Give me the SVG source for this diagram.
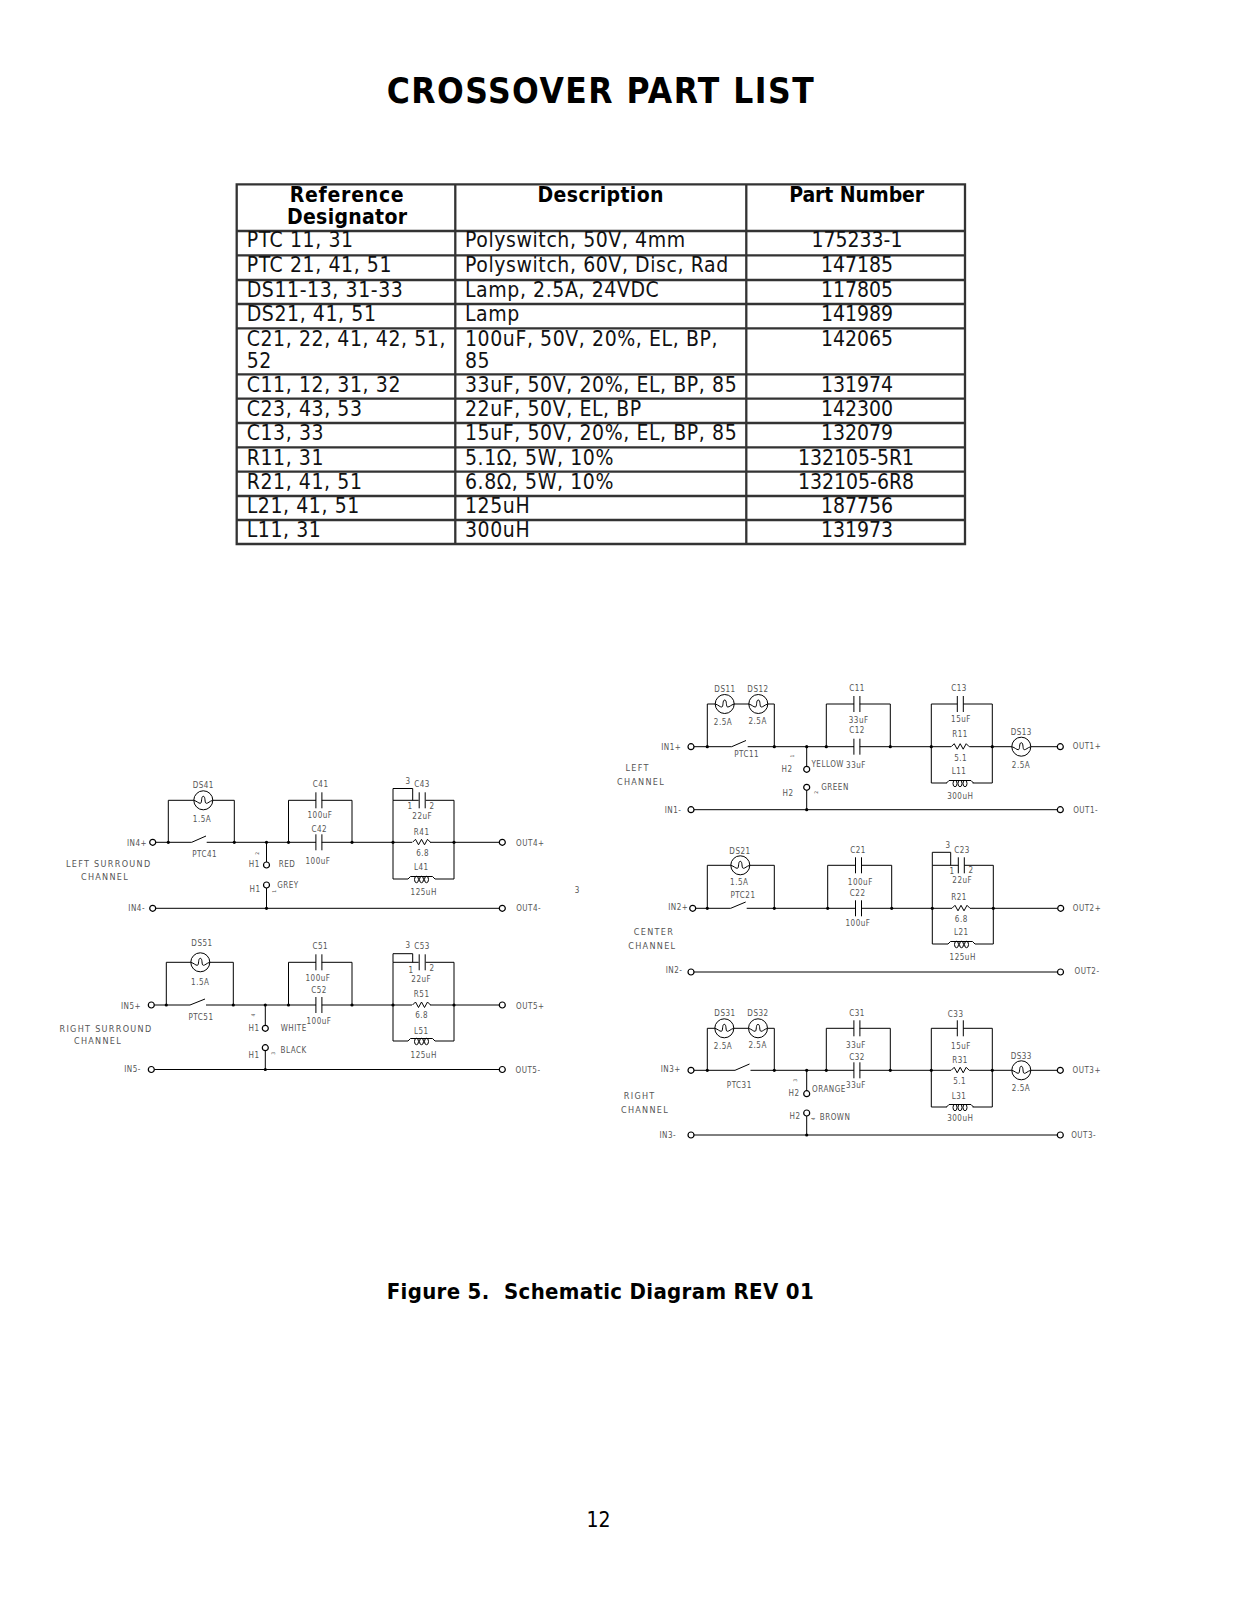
<svg xmlns="http://www.w3.org/2000/svg" width="1237" height="1600" viewBox="0 0 1237 1600">
<style>
text{font-family:"DejaVu Sans Condensed","DejaVu Sans",sans-serif;fill:#000}
.t{font-size:21px;fill:#111;letter-spacing:.6px}
.c{font-size:21px;fill:#111;text-anchor:middle}
.h{font-size:21px;font-weight:bold;text-anchor:middle}
.s{font-size:8px;fill:#555;text-anchor:middle;dominant-baseline:central;letter-spacing:.5px}
.n{font-size:9px;fill:#555;text-anchor:middle;dominant-baseline:central;letter-spacing:1.3px}
.r{font-size:5px;fill:#555;text-anchor:middle}
.g{fill:none;stroke:#333;stroke-width:2.3}
.w{fill:none;stroke:#000;stroke-width:1}
.o{fill:#fff;stroke:#000;stroke-width:1.2}
.d{fill:#000}
</style>
<defs>
<g id="lamp"><circle r="9.5" fill="#fff" stroke="#000" stroke-width="1"/><path class="w" d="M-9.5 0C-6 1-5 3-3 3C-1 3-2.5-4 0-4C2.5-4 1 3 3 3C5 3 6 1 9.5 0"/></g>
<path id="capv" class="w" d="M-3-8V8M3-8V8"/>
<path id="res" class="w" d="M-9 0L-6-3L-3 2.5L0-3L3 2.5L6-3L9 0"/>
<g id="ind"><path class="w" d="M-13.5 0L-11-2.5H11L13.5 0"/><ellipse class="w" cx="-5" cy=".5" rx="2" ry="3.2"/><ellipse class="w" cx="0" cy=".5" rx="2" ry="3.2"/><ellipse class="w" cx="5" cy=".5" rx="2" ry="3.2"/></g>
<circle id="dot" class="d" r="1.6"/>
<circle id="term" class="o" r="3"/>
</defs>

<g id="title"><text x="386.7" y="103.3" font-size="35" font-weight="bold" textLength="427">CROSSOVER PART LIST</text></g>

<g id="table">
<path class="g" d="M236.7 184.3H965V544H236.7ZM455.3 184.3V544M746.3 184.3V544M236.7 231H965M236.7 255.3H965M236.7 280H965M236.7 304H965M236.7 328.3H965M236.7 374.3H965M236.7 398.7H965M236.7 423H965M236.7 447.3H965M236.7 471.7H965M236.7 496H965M236.7 520H965"/>
<text class="h" x="346.7" y="202" textLength="114">Reference</text><text class="h" x="347" y="224" textLength="120">Designator</text>
<text class="h" x="600.5" y="202" textLength="126">Description</text><text class="h" x="856.7" y="202" textLength="135">Part Number</text>
<text class="t" x="246.7" y="247.3">PTC 11, 31</text><text class="t" x="465" y="247.3">Polyswitch, 50V, 4mm</text><text class="c" x="857" y="247.3">175233-1</text>
<text class="t" x="246.7" y="272">PTC 21, 41, 51</text><text class="t" x="465" y="272">Polyswitch, 60V, Disc, Rad</text><text class="c" x="857" y="272">147185</text>
<text class="t" x="246.7" y="296.7">DS11-13, 31-33</text><text class="t" x="465" y="296.7">Lamp, 2.5A, 24VDC</text><text class="c" x="857" y="296.7">117805</text>
<text class="t" x="246.7" y="321">DS21, 41, 51</text><text class="t" x="465" y="321">Lamp</text><text class="c" x="857" y="321">141989</text>
<text class="t" x="246.7" y="345.7">C21, 22, 41, 42, 51,</text><text class="t" x="246.7" y="368.3">52</text><text class="t" x="465" y="345.7">100uF, 50V, 20%, EL, BP,</text><text class="t" x="465" y="368.3">85</text><text class="c" x="857" y="345.7">142065</text>
<text class="t" x="246.7" y="392">C11, 12, 31, 32</text><text class="t" x="465" y="392">33uF, 50V, 20%, EL, BP, 85</text><text class="c" x="857" y="392">131974</text>
<text class="t" x="246.7" y="416">C23, 43, 53</text><text class="t" x="465" y="416">22uF, 50V, EL, BP</text><text class="c" x="857" y="416">142300</text>
<text class="t" x="246.7" y="440">C13, 33</text><text class="t" x="465" y="440">15uF, 50V, 20%, EL, BP, 85</text><text class="c" x="857" y="440">132079</text>
<text class="t" x="246.7" y="465">R11, 31</text><text class="t" x="465" y="465">5.1Ω, 5W, 10%</text><text class="c" x="856" y="465">132105-5R1</text>
<text class="t" x="246.7" y="489.3">R21, 41, 51</text><text class="t" x="465" y="489.3">6.8Ω, 5W, 10%</text><text class="c" x="856" y="489.3">132105-6R8</text>
<text class="t" x="246.7" y="513.3">L21, 41, 51</text><text class="t" x="465" y="513.3">125uH</text><text class="c" x="857" y="513.3">187756</text>
<text class="t" x="246.7" y="537.3">L11, 31</text><text class="t" x="465" y="537.3">300uH</text><text class="c" x="857" y="537.3">131973</text>
</g>

<g id="connectors" class="w">
<path d="M155.7 842.3H191.7L206 836M206.7 842.3H316M321.7 842.3H412M430 842.3H499.3M168.3 842.3V800.3H194M212.8 800.3H234.3V842.3M288.5 842.3V800.3H316M321.7 800.3H352V842.3M393 842.3V800.3H418.7M425.7 800.3H454V842.3M393 800.3V788.5H412.7V800.3M393 842.3V879H408M435 879H454V842.3M266.5 842.3V862M266.5 888V908.3M155.7 908.3H499.3"/>
<path d="M154.3 1005H190L205 999M206 1005H316M321.7 1005H412M430 1005H499.3M166.3 1005V962.3H191M210 962.3H233.3V1005M288.5 1005V962.3H316M321.7 962.3H352V1005M393 1005V962.3H418.7M425.7 962.3H454V1005M393 962.3V953.7H412.7V962.3M393 1005V1041H408M435 1041H454V1005M265.3 1005V1025.3M265.3 1050.7V1069.5M154.3 1069.5H499.3"/>
<path d="M694 746.7H731.7L746 740.5M747.7 746.7H854M859.7 746.7H951M969.3 746.7H1012M1031 746.7H1057.3M707.3 746.7V704H715M768 704H774.3V746.7M734 704H749M826.3 746.7V704H854M859.7 704H890.3V746.7M931.3 746.7V704H957.3M963.3 704H992.3V746.7M931.3 746.7V783H947M972.6 783H992.3V746.7M806.7 746.7V766.3M806.7 790.3V809.7M694 809.7H1057.3"/>
<path d="M695.7 908.3H730.7L745.7 902M746.7 908.3H855.7M861.3 908.3H952M970 908.3H1057.7M707.3 908.3V865.3H731M750 865.3H774.3V908.3M827.7 908.3V865.3H855.7M861.3 865.3H891.7V908.3M932.3 908.3V865.3H958.3M964.3 865.3H993.3V908.3M932.3 865.3V852.3H950.7V865.3M932.3 908.3V944H948M975 944H993.3V908.3M694 972H1057.5"/>
<path d="M694 1070.3H735L749.5 1064M750.5 1070.3H854M859.7 1070.3H951M969.3 1070.3H1012M1031 1070.3H1057.3M707.3 1070.3V1028.3H715M768 1028.3H774.3V1070.3M734 1028.3H749M826.3 1070.3V1028.3H854M859.7 1028.3H890.3V1070.3M931.3 1070.3V1028.3H957.3M963.3 1028.3H992.3V1070.3M931.3 1070.3V1107H947M972.6 1107H992.3V1070.3M806.7 1070.3V1090.7M806.7 1116V1135M694 1135H1057.3"/>
</g>

<g id="left-surround">
<use href="#lamp" x="203.3" y="800.3"/><use href="#capv" x="318.9" y="800.3"/><use href="#capv" x="318.9" y="842.3"/><use href="#capv" x="422.2" y="800.3"/><use href="#res" x="421.5" y="842.3"/><use href="#ind" x="421.5" y="879"/>
<use href="#term" x="152.7" y="842.3"/><use href="#term" x="502.3" y="842.3"/><use href="#term" x="152.7" y="908.3"/><use href="#term" x="502.3" y="908.3"/><use href="#term" x="266.5" y="865"/><use href="#term" x="266.5" y="885"/>
<use href="#dot" x="168.3" y="842.3"/><use href="#dot" x="234.3" y="842.3"/><use href="#dot" x="266.5" y="842.3"/><use href="#dot" x="288.5" y="842.3"/><use href="#dot" x="352" y="842.3"/><use href="#dot" x="393" y="842.3"/><use href="#dot" x="454" y="842.3"/><use href="#dot" x="266.5" y="908.3"/>
<text class="s" x="203.3" y="785">DS41</text><text class="s" x="202" y="819">1.5A</text><text class="s" x="137" y="843">IN4+</text><text class="s" x="204.7" y="854">PTC41</text><text class="s" x="320.7" y="784">C41</text><text class="s" x="320" y="815.3">100uF</text><text class="s" x="319.3" y="829.3">C42</text><text class="s" x="318" y="861.7">100uF</text><text class="s" x="408" y="781.3">3</text><text class="s" x="422" y="784">C43</text><text class="s" x="410" y="806.3">1</text><text class="s" x="432" y="806.3">2</text><text class="s" x="422.3" y="816">22uF</text><text class="s" x="421.7" y="832">R41</text><text class="s" x="422.7" y="853">6.8</text><text class="s" x="421.3" y="867">L41</text><text class="s" x="423.7" y="892">125uH</text><text class="s" x="530.3" y="843">OUT4+</text><text class="s" x="528.7" y="908.3">OUT4-</text><text class="s" x="136.7" y="908.3">IN4-</text>
<text class="n" x="108.7" y="864.3">LEFT SURROUND</text><text class="n" x="105" y="876.7">CHANNEL</text>
<text class="s" x="254.3" y="864">H1</text><text class="s" x="287" y="864">RED</text><text class="r" transform="translate(258.5 853.3) rotate(-90)">2</text><text class="s" x="255" y="889">H1</text><text class="s" x="288" y="885">GREY</text><text class="r" transform="translate(276 891.3) rotate(-90)">1</text>
</g>

<g id="right-surround">
<use href="#lamp" x="200.3" y="962.3"/><use href="#capv" x="318.9" y="962.3"/><use href="#capv" x="318.9" y="1005"/><use href="#capv" x="422.2" y="962.3"/><use href="#res" x="421.5" y="1005"/><use href="#ind" x="421.5" y="1041"/>
<use href="#term" x="151.3" y="1005"/><use href="#term" x="502.3" y="1005"/><use href="#term" x="151.3" y="1069.5"/><use href="#term" x="502.3" y="1069.5"/><use href="#term" x="265.3" y="1028.3"/><use href="#term" x="265.3" y="1047.7"/>
<use href="#dot" x="166.3" y="1005"/><use href="#dot" x="233.3" y="1005"/><use href="#dot" x="265.3" y="1005"/><use href="#dot" x="288.5" y="1005"/><use href="#dot" x="352" y="1005"/><use href="#dot" x="393" y="1005"/><use href="#dot" x="454" y="1005"/><use href="#dot" x="265.3" y="1069.5"/>
<text class="s" x="202" y="943.3">DS51</text><text class="s" x="200.3" y="982.3">1.5A</text><text class="s" x="131" y="1006">IN5+</text><text class="s" x="201" y="1017.3">PTC51</text><text class="s" x="320.3" y="946.3">C51</text><text class="s" x="318" y="978.3">100uF</text><text class="s" x="319" y="990.3">C52</text><text class="s" x="319" y="1021">100uF</text><text class="s" x="408" y="945.3">3</text><text class="s" x="422" y="946.3">C53</text><text class="s" x="411" y="970">1</text><text class="s" x="432" y="968.3">2</text><text class="s" x="421.3" y="979">22uF</text><text class="s" x="421.7" y="994.3">R51</text><text class="s" x="421.7" y="1015.3">6.8</text><text class="s" x="421.3" y="1031">L51</text><text class="s" x="423.7" y="1055">125uH</text><text class="s" x="530.3" y="1006.3">OUT5+</text><text class="s" x="528" y="1070">OUT5-</text><text class="s" x="132.5" y="1069">IN5-</text>
<text class="n" x="106" y="1028.7">RIGHT SURROUND</text><text class="n" x="98" y="1041.3">CHANNEL</text>
<text class="s" x="254" y="1028">H1</text><text class="s" x="293.7" y="1028">WHITE</text><text class="r" transform="translate(254.5 1015) rotate(-90)">4</text><text class="s" x="254" y="1055.3">H1</text><text class="s" x="293.7" y="1050.3">BLACK</text><text class="r" transform="translate(274.5 1053.3) rotate(-90)">3</text>
</g>

<g id="stray-label"><text class="s" x="577.3" y="890">3</text></g>

<g id="left-channel">
<use href="#lamp" x="724.7" y="704"/><use href="#lamp" x="758.3" y="704"/><use href="#capv" x="856.9" y="704"/><use href="#capv" x="856.9" y="746.7"/><use href="#capv" x="960.3" y="704"/><use href="#res" x="960.2" y="746.7"/><use href="#ind" x="960" y="783"/><use href="#lamp" x="1021.3" y="746.7"/>
<use href="#term" x="691" y="746.7"/><use href="#term" x="1060.3" y="746.7"/><use href="#term" x="691" y="809.7"/><use href="#term" x="1060.3" y="809.7"/><use href="#term" x="806.7" y="769.3"/><use href="#term" x="806.7" y="787.3"/>
<use href="#dot" x="707.3" y="746.7"/><use href="#dot" x="774.3" y="746.7"/><use href="#dot" x="806.7" y="746.7"/><use href="#dot" x="826.3" y="746.7"/><use href="#dot" x="890.3" y="746.7"/><use href="#dot" x="931.3" y="746.7"/><use href="#dot" x="992.3" y="746.7"/><use href="#dot" x="806.7" y="809.7"/>
<text class="s" x="725" y="689">DS11</text><text class="s" x="758" y="689">DS12</text><text class="s" x="723" y="722.3">2.5A</text><text class="s" x="757.7" y="721.3">2.5A</text><text class="s" x="671.3" y="747.3">IN1+</text><text class="s" x="746.7" y="754">PTC11</text><text class="s" x="857" y="688.3">C11</text><text class="s" x="858.7" y="720">33uF</text><text class="s" x="857" y="730.3">C12</text><text class="s" x="856" y="765">33uF</text><text class="s" x="959" y="688.3">C13</text><text class="s" x="961" y="719">15uF</text><text class="s" x="960" y="734.3">R11</text><text class="s" x="960.7" y="758.3">5.1</text><text class="s" x="959" y="771">L11</text><text class="s" x="960.3" y="796.3">300uH</text><text class="s" x="1021.3" y="732">DS13</text><text class="s" x="1021" y="765.3">2.5A</text><text class="s" x="1087" y="746.7">OUT1+</text><text class="s" x="1085.7" y="810.5">OUT1-</text><text class="s" x="673" y="810.5">IN1-</text>
<text class="s" x="787" y="769">H2</text><text class="s" x="827.7" y="764">YELLOW</text><text class="r" transform="translate(794 756) rotate(-90)">1</text><text class="s" x="788" y="793">H2</text><text class="s" x="835" y="787">GREEN</text><text class="r" transform="translate(817.5 792.3) rotate(-90)">2</text>
<text class="n" x="637.7" y="768.3">LEFT</text><text class="n" x="641" y="782.3">CHANNEL</text>
</g>

<g id="center-channel">
<use href="#lamp" x="740.3" y="865.3"/><use href="#capv" x="858.5" y="865.3"/><use href="#capv" x="858.5" y="908.3"/><use href="#capv" x="961.3" y="865.3"/><use href="#res" x="961" y="908.3"/><use href="#ind" x="961.5" y="944"/>
<use href="#term" x="692.7" y="908.3"/><use href="#term" x="1060.7" y="908.3"/><use href="#term" x="691" y="972"/><use href="#term" x="1060.5" y="972"/>
<use href="#dot" x="707.3" y="908.3"/><use href="#dot" x="774.3" y="908.3"/><use href="#dot" x="827.7" y="908.3"/><use href="#dot" x="891.7" y="908.3"/><use href="#dot" x="932.3" y="908.3"/><use href="#dot" x="993.3" y="908.3"/>
<text class="s" x="740" y="851">DS21</text><text class="s" x="739.3" y="882">1.5A</text><text class="s" x="743" y="895.3">PTC21</text><text class="s" x="678.3" y="907.3">IN2+</text><text class="s" x="858" y="850.3">C21</text><text class="s" x="860.3" y="882">100uF</text><text class="s" x="857.7" y="893.3">C22</text><text class="s" x="858" y="923.3">100uF</text><text class="s" x="948" y="845">3</text><text class="s" x="962" y="850.3">C23</text><text class="s" x="952" y="871">1</text><text class="s" x="971" y="870.3">2</text><text class="s" x="962.3" y="880.3">22uF</text><text class="s" x="959" y="897">R21</text><text class="s" x="961.3" y="919">6.8</text><text class="s" x="961.3" y="932.7">L21</text><text class="s" x="962.7" y="957">125uH</text><text class="s" x="1087" y="908">OUT2+</text><text class="s" x="1087" y="971.5">OUT2-</text><text class="s" x="674" y="970">IN2-</text>
<text class="n" x="654" y="932.3">CENTER</text><text class="n" x="652.3" y="946.3">CHANNEL</text>
</g>

<g id="right-channel">
<use href="#lamp" x="724.3" y="1028.3"/><use href="#lamp" x="758" y="1028.3"/><use href="#capv" x="856.9" y="1028.3"/><use href="#capv" x="856.9" y="1070.3"/><use href="#capv" x="960.3" y="1028.3"/><use href="#res" x="960.2" y="1070.3"/><use href="#ind" x="960" y="1107"/><use href="#lamp" x="1021.3" y="1070.3"/>
<use href="#term" x="691" y="1070.3"/><use href="#term" x="1060.3" y="1070.3"/><use href="#term" x="691" y="1135"/><use href="#term" x="1060.3" y="1135"/><use href="#term" x="806.7" y="1093.7"/><use href="#term" x="806.7" y="1113"/>
<use href="#dot" x="707.3" y="1070.3"/><use href="#dot" x="774.3" y="1070.3"/><use href="#dot" x="806.7" y="1070.3"/><use href="#dot" x="826.3" y="1070.3"/><use href="#dot" x="890.3" y="1070.3"/><use href="#dot" x="931.3" y="1070.3"/><use href="#dot" x="992.3" y="1070.3"/><use href="#dot" x="806.7" y="1135"/>
<text class="s" x="725" y="1013.3">DS31</text><text class="s" x="758" y="1013.3">DS32</text><text class="s" x="723" y="1046.3">2.5A</text><text class="s" x="757.7" y="1045.3">2.5A</text><text class="s" x="670.7" y="1069.7">IN3+</text><text class="s" x="739.3" y="1085.3">PTC31</text><text class="s" x="857" y="1013.3">C31</text><text class="s" x="856" y="1045.3">33uF</text><text class="s" x="857" y="1057.3">C32</text><text class="s" x="856" y="1085.7">33uF</text><text class="s" x="955.7" y="1014.3">C33</text><text class="s" x="961" y="1046">15uF</text><text class="s" x="960" y="1060.3">R31</text><text class="s" x="959.7" y="1081.3">5.1</text><text class="s" x="959" y="1096.3">L31</text><text class="s" x="960.3" y="1118.3">300uH</text><text class="s" x="1021.3" y="1056.3">DS33</text><text class="s" x="1021" y="1088.3">2.5A</text><text class="s" x="1086.7" y="1070.5">OUT3+</text><text class="s" x="1083.7" y="1135.7">OUT3-</text><text class="s" x="667.8" y="1135.7">IN3-</text>
<text class="s" x="794" y="1093.3">H2</text><text class="s" x="829" y="1089">ORANGE</text><text class="r" transform="translate(796.5 1080.3) rotate(-90)">3</text><text class="s" x="795" y="1116.7">H2</text><text class="s" x="835" y="1117.3">BROWN</text><text class="r" transform="translate(815 1118.7) rotate(-90)">4</text>
<text class="n" x="639.7" y="1096">RIGHT</text><text class="n" x="645" y="1109.7">CHANNEL</text>
</g>

<g id="caption"><text x="386.7" y="1299" font-size="22" font-weight="bold" textLength="427" style="white-space:pre">Figure 5.  Schematic Diagram REV 01</text></g>
<g id="page-number"><text x="598.5" y="1527" font-size="21" text-anchor="middle" fill="#111">12</text></g>
</svg>
